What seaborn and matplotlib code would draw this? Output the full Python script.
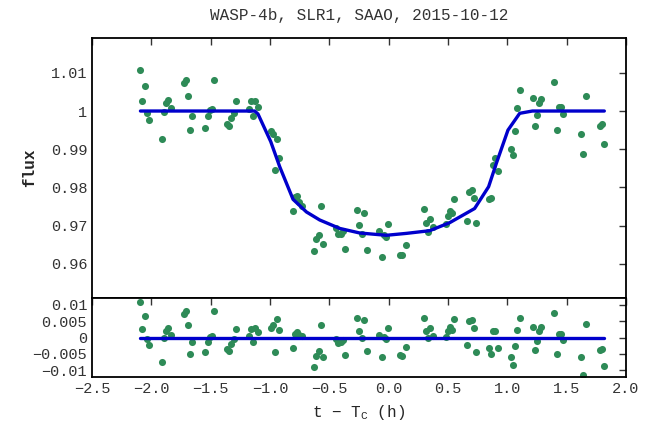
import numpy as np
import pandas as pd
import matplotlib
matplotlib.use("Agg")
import matplotlib.pyplot as plt
import seaborn as sns
from matplotlib.ticker import FuncFormatter

# Photometry: time from mid-transit (hours) and normalised flux
time_h = [
    -2.092, -2.075, -2.056, -2.036, -2.019,
    -1.910, -1.890, -1.873, -1.856, -1.837,
    -1.724, -1.708, -1.691, -1.671, -1.654,
    -1.544, -1.525, -1.505, -1.488, -1.472,
    -1.362, -1.342, -1.325, -1.306, -1.286,
    -1.177, -1.160, -1.140, -1.123, -1.104,
    -0.994, -0.975, -0.958, -0.938, -0.921,
    -0.809, -0.792, -0.775, -0.756, -0.733,
    -0.626, -0.609, -0.590, -0.570, -0.553,
    -0.444, -0.424, -0.404, -0.388, -0.371,
    -0.264, -0.250, -0.222, -0.205, -0.185,
    -0.078, -0.056, -0.040, -0.020, -0.003,
    0.098, 0.112, 0.143,
    0.298, 0.315, 0.331, 0.351, 0.371,
    0.480, 0.500, 0.517, 0.536, 0.553,
    0.663, 0.680, 0.699, 0.719, 0.736,
    0.842, 0.865, 0.882, 0.899, 0.918,
    1.028, 1.045, 1.064, 1.084, 1.104,
    1.213, 1.230, 1.249, 1.266, 1.286,
    1.396, 1.415, 1.432, 1.449, 1.469,
    1.620, 1.640, 1.660,
    1.778, 1.797, 1.817,
]
flux = [
    1.0107, 1.0026, 1.0065, 0.9994, 0.9976,
    0.9927, 0.9997, 1.0020, 1.0029, 1.0009,
    1.0072, 1.0082, 1.0038, 0.9951, 0.9986,
    0.9955, 0.9986, 1.0002, 1.0004, 1.0081,
    0.9965, 0.9960, 0.9981, 0.9995, 1.0026,
    1.0004, 1.0027, 0.9986, 1.0027, 1.0010,
    0.9948, 0.9940, 0.9845, 0.9927, 0.9878,
    0.9738, 0.9775, 0.9777, 0.9763, 0.9752,
    0.9633, 0.9665, 0.9677, 0.9752, 0.9652,
    0.9693, 0.9678, 0.9678, 0.9685, 0.9638,
    0.9741, 0.9702, 0.9678, 0.9732, 0.9637,
    0.9685, 0.9617, 0.9677, 0.9671, 0.9705,
    0.9624, 0.9624, 0.9650,
    0.9745, 0.9706, 0.9684, 0.9717, 0.9696,
    0.9705, 0.9726, 0.9739, 0.9734, 0.9771,
    0.9712, 0.9788, 0.9793, 0.9772, 0.9708,
    0.9770, 0.9772, 0.9859, 0.9876, 0.9842,
    0.9901, 0.9884, 0.9949, 1.0009, 1.0054,
    1.0033, 0.9962, 0.9990, 1.0020, 1.0031,
    1.0075, 0.9950, 1.0010, 1.0010, 0.9992,
    0.9941, 0.9887, 1.0040,
    0.9962, 0.9965, 0.9914,
]

# Best-fit transit model sampled along the light curve
model_t = [-2.092, -1.129, -1.101, -0.994, -0.918, -0.806, -0.693, -0.581,
           -0.413, -0.244, -0.020, 0.149, 0.345, 0.514, 0.724, 0.842,
           0.907, 1.005, 1.104, 1.211, 1.817]
model_f = [1.0, 1.0, 0.9992, 0.9920, 0.9854, 0.9769, 0.9736, 0.9715,
           0.9693, 0.9681, 0.9675, 0.9680, 0.9687, 0.9708, 0.9745, 0.9802,
           0.9863, 0.9950, 0.9994, 1.0, 1.0]

x_ticks = [-2.5, -2.0, -1.5, -1.0, -0.5, 0.0, 0.5, 1.0, 1.5, 2.0]
flux_ticks = [0.96, 0.97, 0.98, 0.99, 1.0, 1.01]
resid_ticks = [-0.01, -0.005, 0.0, 0.005, 0.01]

sns.set_style("white")
plt.rcParams["font.family"] = ["Liberation Mono", "DejaVu Sans Mono"]
plt.rcParams["mathtext.fontset"] = "custom"
plt.rcParams["mathtext.rm"] = "Liberation Mono"
plt.rcParams["mathtext.it"] = "Liberation Mono"

pt_color = "#2e8b57"
line_color = "#0000cc"

data = pd.DataFrame({"t": time_h, "flux": flux})
data["resid"] = data["flux"] - np.interp(data["t"], model_t, model_f)
model = pd.DataFrame({"t": model_t, "flux": model_f})
zero = pd.DataFrame({"t": [model_t[0], model_t[-1]], "resid": [0.0, 0.0]})

fig = plt.figure(figsize=(6.49, 4.23), dpi=100)
ax = fig.add_axes([0.1418, 0.2955, 0.8228, 0.6147])
axr = fig.add_axes([0.1418, 0.1087, 0.8228, 0.1868], sharex=ax)

sns.scatterplot(data=data, x="t", y="flux", ax=ax, color=pt_color,
                s=26, linewidth=0, zorder=2)
sns.lineplot(data=model, x="t", y="flux", ax=ax, color=line_color,
             lw=2.4, sort=False, estimator=None, zorder=3)

sns.scatterplot(data=data, x="t", y="resid", ax=axr, color=pt_color,
                s=26, linewidth=0, zorder=2)
sns.lineplot(data=zero, x="t", y="resid", ax=axr, color=line_color,
             lw=2.4, sort=False, estimator=None, zorder=3)

fmt_g = FuncFormatter(lambda v, p: ("%g" % v).replace("-", "\u2212"))
fmt_x = FuncFormatter(lambda v, p: ("%.1f" % v).replace("-", "\u2212"))

ax.set_xlim(-2.5, 2.0)
ax.set_ylim(0.9511, 1.0191)
ax.set_yticks(flux_ticks)
ax.yaxis.set_major_formatter(fmt_g)
ax.set_xticks(x_ticks)
ax.tick_params(labelbottom=False)
ax.set_xlabel("")
ax.set_ylabel("flux", fontweight="bold", fontsize=11.5, labelpad=10)

axr.set_ylim(-0.012, 0.012)
axr.set_yticks(resid_ticks)
axr.yaxis.set_major_formatter(fmt_g)
axr.xaxis.set_major_formatter(fmt_x)
axr.set_ylabel("")
axr.set_xlabel("t \u2212 T$_\\mathrm{C}$ (h)", fontsize=11.5, labelpad=5)

for a in (ax, axr):
    a.tick_params(direction="in", top=True, right=True, length=5, width=1,
                  labelsize=11, color="#333333", labelcolor="#333333")
    for s in a.spines.values():
        s.set_color("black")
        s.set_linewidth(1.3)

fig.suptitle("WASP-4b, SLR1, SAAO, 2015-10-12", x=0.553, y=0.98,
             fontsize=11.5, color="#333333")

fig.savefig("out.png", dpi=100)
